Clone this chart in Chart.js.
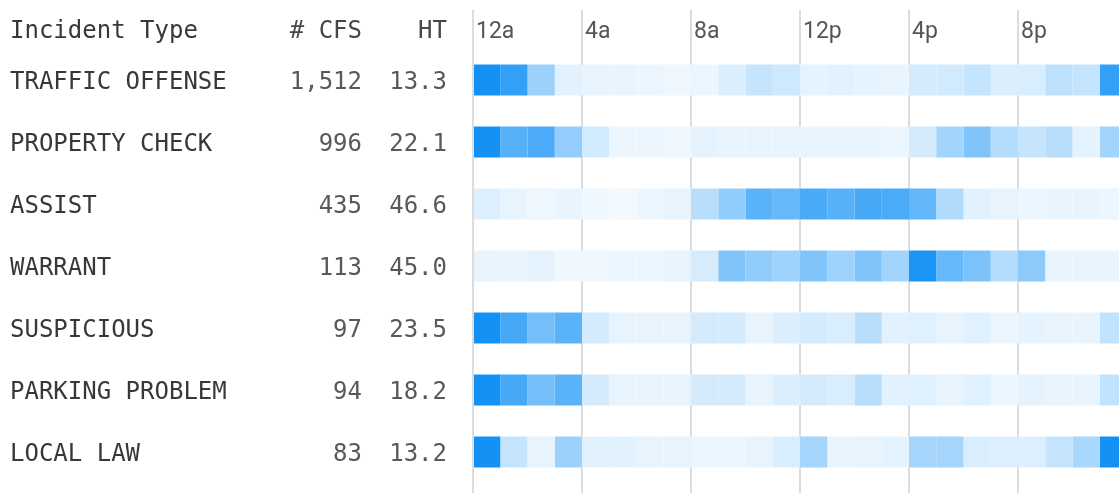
<!DOCTYPE html>
<html>
<head>
<meta charset="utf-8">
<title>Incident types by hour</title>
<script src="https://cdn.jsdelivr.net/npm/chart.js@4.4.1/dist/chart.umd.min.js"></script>
<style>
    html, body { margin: 0; padding: 0; background: #fff; overflow: hidden; }
    #wrap { position: relative; width: 1127px; height: 493px; }
</style>
</head>
<body>
<div id="wrap"><canvas id="cvsIncidentHeat"></canvas></div>
<script>
"use strict";

// ---- data ----
const incidentTypes = ["TRAFFIC OFFENSE", "PROPERTY CHECK", "ASSIST", "WARRANT", "SUSPICIOUS", "PARKING PROBLEM", "LOCAL LAW"];
const cfsCounts = ["1,512", "996", "435", "113", "97", "94", "83"];
const handleTimes = ["13.3", "22.1", "46.6", "45.0", "23.5", "18.2", "13.2"];
const hourTicks = ["12a", "4a", "8a", "12p", "4p", "8p"];

// share of the row's busiest hour, 0..100, one value per hour 12a..11p
const trafficOffense = [97, 84, 41, 12, 10, 9, 8, 6.5, 8, 15, 24, 20, 11, 12, 11, 9, 18, 19, 24, 15, 16, 27, 24, 84];
const propertyCheck  = [97, 69, 74, 44, 19, 8, 8, 7, 11, 10, 10, 10, 9, 9, 9, 8, 18, 38, 52, 31, 24, 29, 11, 38];
const assist         = [14, 10, 7, 9, 6.5, 5.5, 8, 10, 29, 45, 68, 63, 75, 69, 77, 74, 64, 32, 12, 10, 8, 9, 9, 8];
const warrant        = [10, 9, 11, 6.5, 7, 8, 8, 10, 17, 52, 45, 39, 52, 39, 53, 38, 94, 63, 54, 31, 47, 9, 9, 9];
const suspicious     = [97, 76, 57, 68, 18, 10, 10, 10, 18, 18, 10, 15, 18, 16, 29, 12, 13, 10, 13, 8, 11, 10, 9, 25];
const parkingProblem = [97, 76, 57, 68, 18, 10, 10, 10, 18, 18, 10, 15, 18, 16, 29, 12, 13, 10, 13, 8, 11, 10, 9, 25];
const localLaw       = [97, 24, 10, 41, 12, 12, 10, 10, 8, 8, 10, 16, 37, 9, 10, 11, 37, 37, 16, 14, 14, 24, 35, 97];

const hourlyShare = [trafficOffense, propertyCheck, assist, warrant, suspicious, parkingProblem, localLaw];

// white -> blue ramp
function shade(v) {
    const t = Math.max(0, Math.min(1, v / 100));
    const mix = b => Math.round(255 - (255 - b) * t);
    return `rgb(${mix(12)}, ${mix(142)}, ${mix(245)})`;
}

// one stacked dataset per hour, each row gets width 1
const datasets = [];
for (let h = 0; h < 24; h++) {
    datasets.push({
        label: "h" + h,
        data: incidentTypes.map(() => 1),
        backgroundColor: hourlyShare.map(row => shade(row[h])),
        borderWidth: 0,
        categoryPercentage: 1,
        barPercentage: 0.5
    });
}

/* ---------------- left-hand table text ---------------- */
const tableText = {
    id: "tableText",
    afterDraw(chart) {
        const { ctx, chartArea } = chart;
        const y = chart.scales.y;
        const mono = '"DejaVu Sans Mono", "Liberation Mono", monospace';
        ctx.save();
        ctx.textBaseline = "alphabetic";
        ctx.font = "24px " + mono;

        const headY = chartArea.top - 11;
        ctx.fillStyle = "#383838";
        ctx.textAlign = "left";
        ctx.fillText("Incident Type", 10, headY);
        ctx.fillStyle = "#474747";
        ctx.textAlign = "right";
        ctx.fillText("# CFS", 362, headY);
        ctx.fillText("HT", 447, headY);

        incidentTypes.forEach((name, i) => {
            const py = y.getPixelForValue(i) + 9;
            ctx.fillStyle = "#383838";
            ctx.textAlign = "left";
            ctx.fillText(name, 10, py);
            ctx.fillStyle = "#595959";
            ctx.textAlign = "right";
            ctx.fillText(cfsCounts[i], 362, py);
            ctx.fillText(handleTimes[i], 447, py);
        });
        ctx.restore();
    }
};

const gridColor = "#dcdcdc";

new Chart(document.getElementById("cvsIncidentHeat").getContext("2d"), {
    type: "bar",
    data: { labels: incidentTypes, datasets },
    options: {
        indexAxis: "y",
        responsive: true,
        maintainAspectRatio: false,
        animation: false,
        events: [],
        layout: { padding: { left: 473, top: 10, right: 0, bottom: 0 } },
        plugins: { legend: { display: false }, tooltip: { enabled: false } },
        scales: {
            x: {
                type: "linear",
                position: "top",
                stacked: true,
                min: 0,
                max: 24,
                z: 1,
                border: { display: false },
                grid: { color: gridColor, lineWidth: 2, tickLength: 39 },
                ticks: {
                    stepSize: 4,
                    autoSkip: false,
                    maxRotation: 0,
                    align: "start",
                    labelOffset: 3,
                    padding: -36,
                    color: "#555",
                    font: { family: "Roboto", size: 23 },
                    callback: v => (v < 24 ? hourTicks[v / 4] : "")
                },
                afterFit: s => { s.height = 39; }
            },
            x2: {
                type: "linear",
                position: "bottom",
                min: 0,
                max: 24,
                z: 1,
                border: { display: false },
                grid: { color: gridColor, lineWidth: 2, tickLength: 10 },
                ticks: { display: false, stepSize: 4 }
            },
            y: { type: "category", stacked: true, display: false, offset: true }
        }
    },
    plugins: [tableText]
});
</script>
</body>
</html>
